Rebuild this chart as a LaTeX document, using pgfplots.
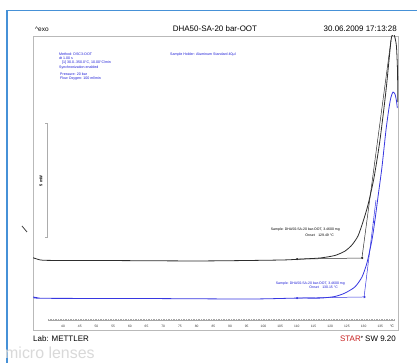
\documentclass[border=0pt]{standalone}
\usepackage{pgfplots}
\pgfplotsset{compat=1.18}
\usepackage{fontspec}
\setmainfont{Liberation Sans}
\definecolor{frameblue}{RGB}{70,145,215}
\definecolor{curveblue}{RGB}{55,55,225}
\definecolor{textblue}{RGB}{25,25,215}
\definecolor{curveblack}{RGB}{45,45,45}
\definecolor{starred}{RGB}{200,30,30}
\newcommand{\annfont}{\fontsize{3.5}{4}\selectfont}
\begin{document}
\begin{tikzpicture}[x=1bp,y=1bp]
\useasboundingbox (0,0) rectangle (417,363);
\fill[white] (0,0) rectangle (417,363);
% outer blue frame
\draw[frameblue, line width=1.6pt] (7,-2) -- (7,352.5) -- (420,352.5);
\begin{axis}[
  at={(33bp,33bp)}, anchor=south west,
  scale only axis, width=365bp, height=294bp,
  xmin=31, xmax=140.3, ymin=0, ymax=12.9,
  axis line style={gray!55, line width=0.8pt},
  xtick={40,45,...,135}, ytick=\empty,
  major tick length=0pt, tick style={draw=none},
  /pgf/number format/assume math mode=true,
  xticklabel style={font=\fontsize{3.3}{4}\selectfont, anchor=center, inner sep=0pt, yshift=4bp, text=black!80},
]
% black sample curve
\addplot[curveblack, line width=0.8pt, smooth, tension=0.4] coordinates {
(31.0,3.17) (32.5,3.10) (34.0,3.06) (40,3.05) (51.1,3.05) (81.0,3.03) (105.0,3.07)
(111.0,3.11) (117.0,3.16) (121.4,3.27) (124.4,3.46) (126.5,3.73) (128.3,4.12)
(129.8,4.74) (131.3,5.48) (133.1,6.67) (134.9,8.33) (136.7,10.5) (138.2,12.7)
(138.7,12.94) (139.1,12.98) (139.8,12.5) (140.15,11.4) (140.25,10.0)};
% blue sample curve
\addplot[curveblue, line width=0.8pt, smooth, tension=0.4] coordinates {
(31.0,1.45) (32.5,1.41) (34.0,1.39) (66.0,1.38) (96.0,1.36) (110.1,1.40) (117.0,1.40)
(121.4,1.47) (124.4,1.62) (127.4,1.89) (129.5,2.32) (131.0,2.94) (132.5,3.95)
(133.4,4.82) (134.3,5.83) (135.5,7.15) (136.7,8.77) (137.6,9.74) (138.2,10.22)
(138.8,10.44) (139.4,10.35) (139.8,10.09) (140.1,9.74)};
% onset tangents black
\addplot[curveblack, line width=0.5pt] coordinates {(110.1,3.11) (129.6,3.16)};
\addplot[curveblack, line width=0.5pt] coordinates {(129.5,3.16) (138.2,12.72)};
\addplot[only marks, mark=*, mark size=0.8pt, curveblack] coordinates {(110.1,3.11) (129.6,3.16)};
% onset tangents blue
\addplot[curveblue, line width=0.5pt] coordinates {(110.1,1.40) (130.4,1.45)};
\addplot[curveblue, line width=0.5pt] coordinates {(130.1,1.40) (133.7,5.70)};
\addplot[only marks, mark=*, mark size=0.8pt, curveblue] coordinates {(110.1,1.40) (130.3,1.45) (133.1,4.74)};
\end{axis}
% inner temperature scale line
\draw[gray!70, line width=0.3pt] (48,43) -- (395,43);
\draw[gray!70, line width=1.2pt, dash pattern=on 0.35pt off 1.32pt] (48,43) -- (395,43);
\node[font=\fontsize{3.5}{4}\selectfont, inner sep=0pt] at (392,37) {°C};
% scale bar
\draw[gray!65, line width=0.6pt] (45,240) -- (47.5,240) -- (47.5,126) -- (45,126);
\node[rotate=90, font=\fontsize{4}{4}\selectfont\bfseries, inner sep=0pt] at (41,182) {5 mW};
\draw[black!75, line width=0.8pt] (22,137) -- (27,131);
% header
\node[anchor=base west, font=\fontsize{6.5}{7}\selectfont, inner sep=0pt] at (35,331.5) {\textasciicircum exo};
\node[anchor=base, font=\fontsize{8}{9}\selectfont, inner sep=0pt] at (215,331.5) {DHA50-SA-20 bar-OOT};
\node[anchor=base east, font=\fontsize{8}{9}\selectfont, inner sep=0pt] at (397,331.5) {30.06.2009 17:13:28};
% footer
\node[anchor=base west, font=\fontsize{8}{9}\selectfont, inner sep=0pt] at (33,22) {Lab: METTLER};
\node[anchor=base east, font=\fontsize{8}{9}\selectfont, inner sep=0pt] at (396,22) {\textcolor{starred}{STAR}\raisebox{2.5pt}{\fontsize{4}{4}\selectfont e} SW 9.20};
% watermark
\node[anchor=base west, font=\fontsize{16}{17}\selectfont, text=gray!30, inner sep=0pt] at (5,5) {micro lenses};
% method info
\begin{scope}[every node/.style={anchor=west, inner sep=0pt, text=textblue, font=\fontsize{3.6}{4}\selectfont}]
\node at (59,309) {Method: DSC3-OOT};
\node at (59,305) {dt 1.00 s};
\node at (62,300.5) {[1] 30.0..350.0°C, 10.00°C/min};
\node at (59,295.5) {Synchronization enabled};
\node at (60,288.5) {Pressure: 20 bar};
\node at (60,284.5) {Flow Oxygen: 100 ml/min};
\node at (170,308) {Sample Holder: Aluminum Standard 40µl};
\end{scope}
% sample annotations
\node[anchor=east, inner sep=0pt, font=\annfont] at (340,133) {Sample: DHA50-SA-20 bar-OOT, 3.4600 mg};
\node[anchor=east, inner sep=0pt, font=\annfont] at (334,127.5) {Onset\quad 129.49 °C};
\node[anchor=east, inner sep=0pt, font=\annfont, text=textblue] at (345,79) {Sample: DHA50-SA-20 bar-OOT, 3.4600 mg};
\node[anchor=east, inner sep=0pt, font=\annfont, text=textblue] at (338,75.5) {Onset\quad 130.15 °C};
\end{tikzpicture}
\end{document}
